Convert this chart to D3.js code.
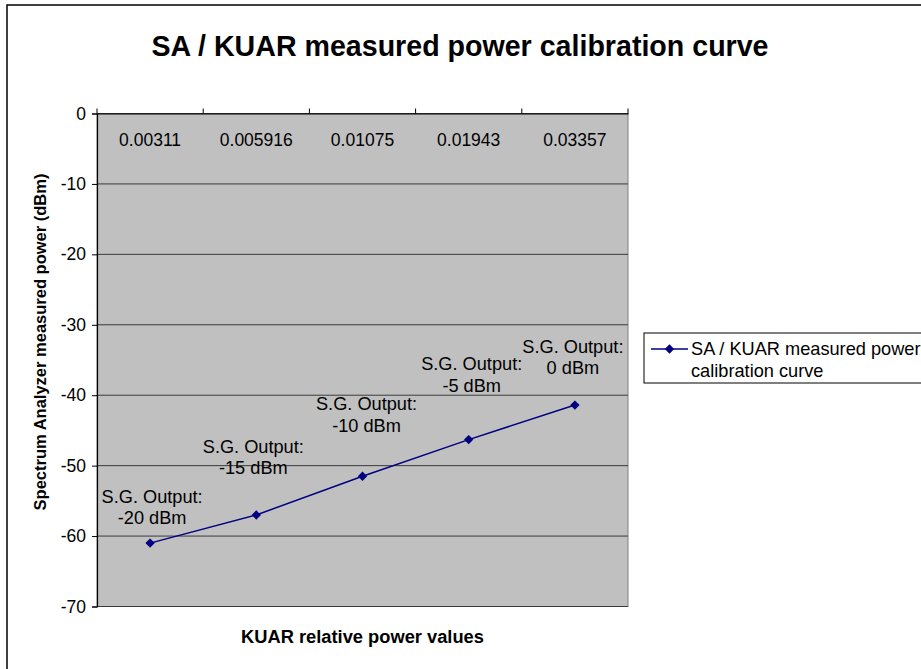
<!DOCTYPE html>
<html>
<head>
<meta charset="utf-8">
<script src="https://cdn.jsdelivr.net/npm/d3@7"></script>
<style>
  html, body { margin: 0; padding: 0; background: #fff; }
  svg { display: block; font-family: "Liberation Sans", Arial, sans-serif; }
</style>
</head>
<body>
<svg id="chart" width="921" height="669"></svg>
<script>
// KUAR relative power readings (category axis) and measured SA power in dBm
const categories = ["0.00311", "0.005916", "0.01075", "0.01943", "0.03357"];
const measuredPower = [-61, -57, -51.5, -46.3, -41.4];
const sgOutput = ["-20 dBm", "-15 dBm", "-10 dBm", "-5 dBm", "0 dBm"];
const yTicks = [0, -10, -20, -30, -40, -50, -60, -70];

const titleText = "SA / KUAR measured power calibration curve";
const seriesName = ["SA / KUAR measured power", "calibration curve"];

// hand-placed nudges for the point labels (pixels, relative to the point)
const labelNudge = [
  { dx: 2, dy: -25 }, { dx: -3, dy: -47 }, { dx: 4, dy: -51 },
  { dx: 3, dy: -54 }, { dx: -2, dy: -37 }
];

const svg = d3.select("#chart");
const plot = { left: 97, right: 628, top: 113.5, bottom: 606.5 };
const navy = "#000080";

// chart area frame
svg.append("rect")
  .attr("x", 7).attr("y", 5).attr("width", 940).attr("height", 700)
  .attr("fill", "#fff").attr("stroke", "#000").attr("stroke-width", 1.5);

svg.append("text")
  .attr("x", 460).attr("y", 56)
  .attr("text-anchor", "middle")
  .attr("font-size", 28.6).attr("font-weight", "bold")
  .text(titleText);

const x = d3.scaleBand().domain(categories).range([plot.left, plot.right]);
const y = d3.scaleLinear().domain([-70, 0]).range([plot.bottom, plot.top]);

// plot area
svg.append("rect")
  .attr("x", plot.left).attr("y", plot.top)
  .attr("width", plot.right - plot.left).attr("height", plot.bottom - plot.top)
  .attr("fill", "#c0c0c0").attr("stroke", "#808080").attr("stroke-width", 1);

// horizontal gridlines
svg.append("g")
  .selectAll("line").data(yTicks).join("line")
  .attr("x1", plot.left).attr("x2", plot.right)
  .attr("y1", d => y(d)).attr("y2", d => y(d))
  .attr("stroke", "#3a3a3a").attr("stroke-width", 1);

// value axis
const yAxis = svg.append("g")
  .attr("transform", `translate(${plot.left},0)`)
  .call(d3.axisLeft(y).tickValues(yTicks).tickSize(5).tickPadding(6).tickFormat(d => String(d)));
yAxis.select(".domain").attr("stroke", "#000").attr("stroke-width", 1.2);
yAxis.selectAll(".tick line").attr("stroke", "#000");
yAxis.selectAll(".tick text")
  .attr("font-size", 17.5).attr("fill", "#000")
  .attr("font-family", "Liberation Sans, Arial, sans-serif");

// category axis sits on the 0 dBm line
const xAxis = svg.append("g")
  .attr("transform", `translate(0,${y(0)})`)
  .call(d3.axisTop(x).tickSize(0).tickFormat(""));
xAxis.select(".domain").attr("stroke", "#000").attr("stroke-width", 1.2);
xAxis.selectAll(".tick").remove();

const bounds = categories.map(c => x(c)).concat([plot.right]);
svg.append("g")
  .selectAll("line").data(bounds).join("line")
  .attr("x1", d => d).attr("x2", d => d)
  .attr("y1", y(0)).attr("y2", y(0) - 5)
  .attr("stroke", "#000");

svg.append("g")
  .selectAll("text").data(categories).join("text")
  .attr("x", d => x(d) + x.bandwidth() / 2)
  .attr("y", 146)
  .attr("text-anchor", "middle")
  .attr("font-size", 17.5)
  .text(d => d);

// series line and markers
const pts = categories.map((c, i) => ({ c, v: measuredPower[i], i }));
const line = d3.line()
  .x(d => x(d.c) + x.bandwidth() / 2)
  .y(d => y(d.v));
svg.append("path")
  .datum(pts)
  .attr("d", line)
  .attr("fill", "none").attr("stroke", navy).attr("stroke-width", 1.5);

// diamond marker: a square turned 45 degrees
const diamond = d3.symbol().type(d3.symbolSquare).size(44);
svg.append("g")
  .selectAll("path").data(pts).join("path")
  .attr("transform", d => `translate(${x(d.c) + x.bandwidth() / 2},${y(d.v)}) rotate(45)`)
  .attr("d", diamond)
  .attr("fill", navy);

// point labels
const labels = svg.append("g")
  .selectAll("text").data(pts).join("text")
  .attr("text-anchor", "middle")
  .attr("font-size", 18.2)
  .attr("transform", d => {
    const n = labelNudge[d.i];
    return `translate(${x(d.c) + x.bandwidth() / 2 + n.dx},${y(d.v) + n.dy})`;
  });
labels.append("tspan").attr("x", 0).attr("y", -21.5).attr("dy", "0.35em").text("S.G. Output:");
labels.append("tspan").attr("x", 0).attr("y", 0).attr("dy", "0.35em").text(d => sgOutput[d.i]);

// axis titles
svg.append("text")
  .attr("transform", "translate(40,342) rotate(-90)")
  .attr("text-anchor", "middle").attr("dy", "0.35em")
  .attr("font-size", 16.5).attr("font-weight", "bold")
  .text("Spectrum Analyzer measured power (dBm)");

svg.append("text")
  .attr("x", (plot.left + plot.right) / 2).attr("y", 643)
  .attr("text-anchor", "middle")
  .attr("font-size", 18.3).attr("font-weight", "bold")
  .text("KUAR relative power values");

// legend
const legend = svg.append("g");
legend.append("rect")
  .attr("x", 644).attr("y", 333).attr("width", 300).attr("height", 50)
  .attr("fill", "#fff").attr("stroke", "#000").attr("stroke-width", 1);
legend.append("line")
  .attr("x1", 651).attr("x2", 688).attr("y1", 349).attr("y2", 349)
  .attr("stroke", navy).attr("stroke-width", 1.5);
legend.append("path")
  .attr("transform", "translate(669.5,349) rotate(45)")
  .attr("d", diamond).attr("fill", navy);
legend.selectAll("text").data(seriesName).join("text")
  .attr("x", 691).attr("y", (d, i) => 349 + i * 22)
  .attr("dy", "0.35em")
  .attr("font-size", 18.2)
  .text(d => d);
</script>
</body>
</html>
